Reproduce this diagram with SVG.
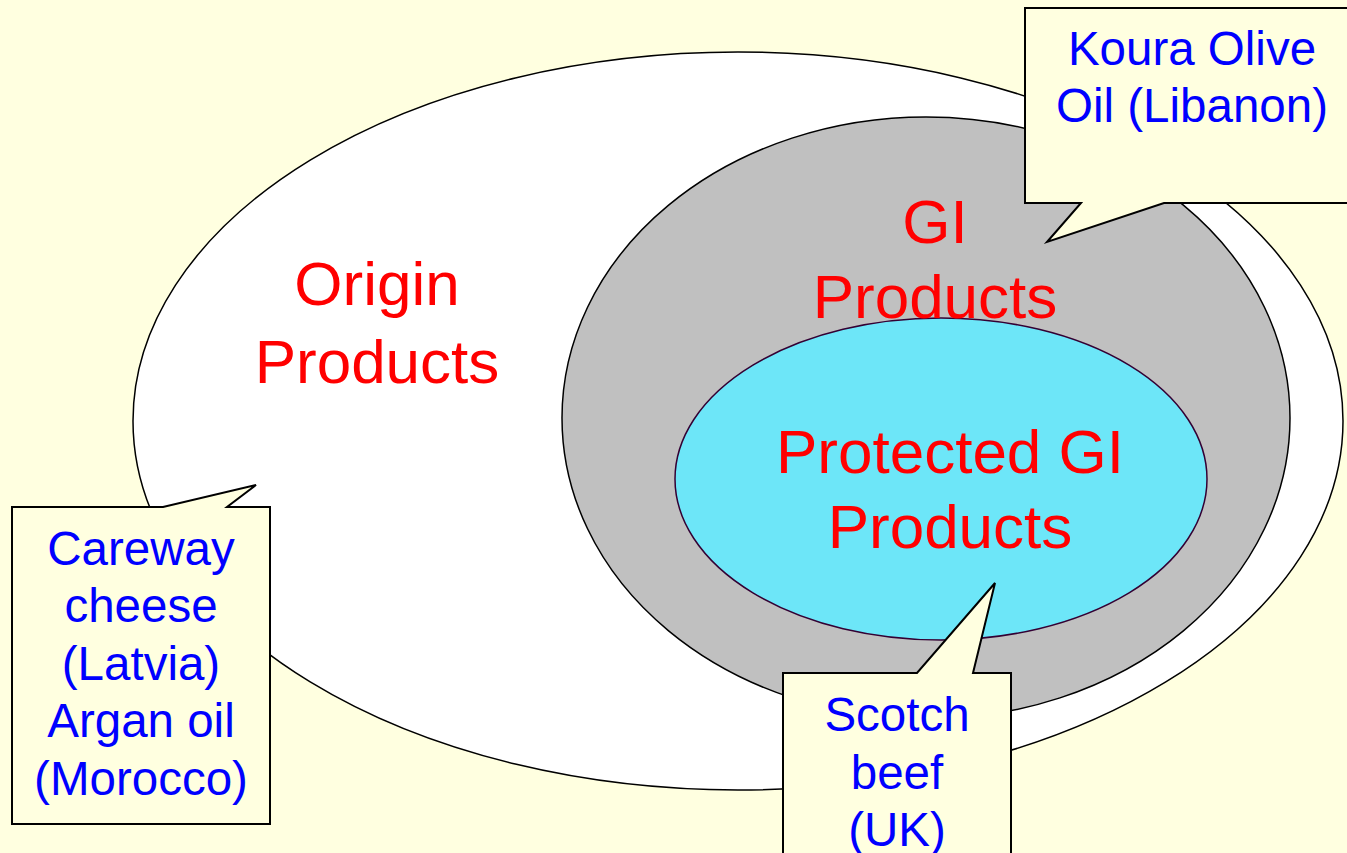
<svg xmlns="http://www.w3.org/2000/svg" width="1347" height="853" viewBox="0 0 1347 853">
<style>
.bg{fill:#FFFFE0}
.red{fill:#FF0000;font-family:"Liberation Sans",Arial,sans-serif;font-size:62px;text-anchor:middle}
.blue{fill:#0000FF;font-family:"Liberation Sans",Arial,sans-serif;font-size:47.5px;text-anchor:middle}
.callout{fill:#FFFFE0;stroke:#000;stroke-width:2;stroke-linejoin:miter}
</style>
<rect class="bg" x="0" y="0" width="1347" height="853"/>
<g id="origin">
<ellipse cx="738" cy="421" rx="605" ry="369" fill="#FFFFFF" stroke="#000" stroke-width="1.5"/>
</g>
<g id="gi">
<ellipse cx="926" cy="418" rx="364" ry="301" fill="#C0C0C0" stroke="#000" stroke-width="1.5"/>
</g>
<g id="protected">
<ellipse cx="941" cy="479" rx="266" ry="161" fill="#6DE6F8" stroke="#330033" stroke-width="1.5"/>
</g>
<g id="labels">
<text class="red" x="377" y="305">Origin</text>
<text class="red" x="377" y="383">Products</text>
<text class="red" x="935" y="243">GI</text>
<text class="red" x="935" y="318">Products</text>
<text class="red" x="950" y="473">Protected GI</text>
<text class="red" x="950" y="548">Products</text>
</g>
<g id="connectors"></g>
<g id="koura">
<path class="callout" d="M1025,8 H1352 V203 H1164 L1047,242 L1081,203 H1025 Z"/>
<text class="blue" x="1192" y="65">Koura Olive</text>
<text class="blue" x="1192" y="122">Oil (Libanon)</text>
</g>
<g id="careway">
<path class="callout" d="M12,507 H163 L256,485 L227,507 H270 V824 H12 Z"/>
<text class="blue" x="141" y="565">Careway</text>
<text class="blue" x="141" y="622">cheese</text>
<text class="blue" x="141" y="680">(Latvia)</text>
<text class="blue" x="141" y="737">Argan oil</text>
<text class="blue" x="141" y="795">(Morocco)</text>
</g>
<g id="scotch">
<path class="callout" d="M783,673 H917 L995,583 L973,673 H1011 V860 H783 Z"/>
<text class="blue" x="897" y="731">Scotch</text>
<text class="blue" x="897" y="789">beef</text>
<text class="blue" x="897" y="846">(UK)</text>
</g>
</svg>
